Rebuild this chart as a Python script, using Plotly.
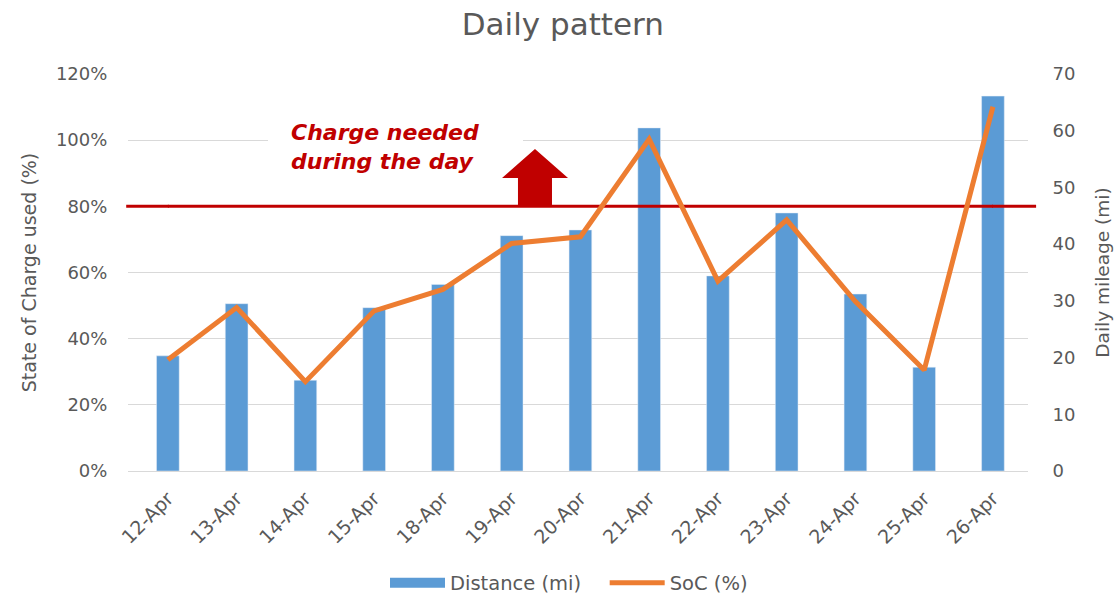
import plotly.graph_objects as go

dates = ["12-Apr", "13-Apr", "14-Apr", "15-Apr", "18-Apr", "19-Apr", "20-Apr",
         "21-Apr", "22-Apr", "23-Apr", "24-Apr", "25-Apr", "26-Apr"]
distance_mi = [20.3, 29.5, 16.0, 28.8, 32.9, 41.5, 42.5, 60.5, 34.4, 45.5, 31.2, 18.3, 66.1]
soc_used = [0.336, 0.494, 0.270, 0.484, 0.549, 0.688, 0.708, 1.003, 0.574, 0.759, 0.512, 0.305, 1.101]
threshold = 0.8
left_ticks = [0, 0.2, 0.4, 0.6, 0.8, 1.0, 1.2]
right_ticks = [0, 10, 20, 30, 40, 50, 60, 70]

FONT = "DejaVu Sans"
GREY = "#595959"
RED = "#C00000"
BLUE = "#5B9BD5"
ORANGE = "#ED7D31"
NBSP = "\u00a0"

n = len(dates)
X_RANGE = [-0.58, n - 1 + 0.51]

fig = go.Figure()
# bars on primary (right-side) axis so the SoC line overlays them
fig.add_trace(go.Bar(x=dates, y=distance_mi, name="Distance (mi)", marker_color=BLUE,
                     yaxis="y", width=0.33, showlegend=False))
# legend stand-in for the bar series (wide rectangle)
fig.add_trace(go.Scatter(x=[None], y=[None], name="Distance (mi)" + NBSP * 3, mode="lines",
                         line=dict(color=BLUE, width=10), yaxis="y"))
# threshold line between bars and SoC line
fig.add_trace(go.Scatter(x=[dates[0], dates[-1]], y=[threshold, threshold], mode="lines",
                         line=dict(color=RED, width=3), yaxis="y2", showlegend=False,
                         hoverinfo="skip"))
fig.add_trace(go.Scatter(x=dates, y=soc_used, name="SoC (%)", mode="lines",
                         line=dict(color=ORANGE, width=5), yaxis="y2"))


def px(x):
    return (x - 128) / 900


def py(y):
    return (471 - y) / 397


def cat_paper(i):
    return (i - X_RANGE[0]) / (X_RANGE[1] - X_RANGE[0])


shapes = [
    dict(type="line", xref="paper", yref="y2", x0=-0.002, x1=cat_paper(0) + 0.001, y0=threshold, y1=threshold,
         line=dict(color=RED, width=3), layer="above"),
    dict(type="line", xref="paper", yref="y2", x0=cat_paper(n - 1) - 0.001, x1=1.009, y0=threshold, y1=threshold,
         line=dict(color=RED, width=3), layer="above"),
    dict(type="rect", xref="paper", yref="paper", x0=px(268), x1=px(523),
         y0=py(190), y1=py(112), fillcolor="white", line_width=0, layer="above"),
]
pts = [(518, 206), (518, 178), (502, 178), (535, 149), (568, 178), (552, 178), (552, 206)]
path = "M " + " L ".join(f"{px(a):.4f},{py(b):.4f}" for a, b in pts) + " Z"
shapes.append(dict(type="path", xref="paper", yref="paper", path=path, fillcolor=RED,
                   line=dict(color=RED, width=0), layer="above"))

fig.update_layout(
    width=1119, height=597,
    margin=dict(l=128, r=91, t=74, b=126, autoexpand=False),
    paper_bgcolor="white", plot_bgcolor="white",
    font=dict(family=FONT, color=GREY, size=18),
    title=dict(text="Daily pattern", x=0.503, xanchor="center", y=0.96, yanchor="middle",
               font=dict(size=31, color=GREY, family=FONT)),
    xaxis=dict(range=X_RANGE, tickangle=-45, tickfont=dict(size=19, color=GREY), showgrid=False,
               showline=True, linecolor="#D9D9D9", linewidth=1, ticks="outside", ticklen=8,
               tickcolor="rgba(0,0,0,0)", automargin=False),
    yaxis=dict(range=[0, 70], tickvals=right_ticks, side="right", showgrid=False,
               zeroline=False, ticks="outside", ticklen=20, tickcolor="rgba(0,0,0,0)",
               tickfont=dict(size=18, color=GREY), automargin=False,
               title=dict(text="Daily mileage (mi)", font=dict(size=18.5, color=GREY), standoff=21)),
    yaxis2=dict(range=[0, 1.2], tickvals=left_ticks, tickformat=".0%", overlaying="y", side="left",
                showgrid=True, gridcolor="#D9D9D9", gridwidth=1, zeroline=False,
                ticks="outside", ticklen=16, tickcolor="rgba(0,0,0,0)",
                tickfont=dict(size=18, color=GREY), automargin=False,
                title=dict(text="State of Charge used (%)", font=dict(size=19, color=GREY), standoff=14)),
    legend=dict(orientation="h", x=0.49, xanchor="center", y=-0.282, yanchor="middle",
                font=dict(size=19.5, color=GREY), itemwidth=55, traceorder="normal"),
    shapes=shapes,
)
fig.add_annotation(xref="paper", yref="paper", x=px(289), y=py(147), xanchor="left", yanchor="middle",
                   text="<b><i>Charge needed<br>during the day</i></b>", showarrow=False, align="left",
                   font=dict(size=22, color=RED, family=FONT))

fig.write_html("out.html", config={"displayModeBar": False},
               post_script="document.body.style.margin='0';document.body.style.overflow='hidden';")
